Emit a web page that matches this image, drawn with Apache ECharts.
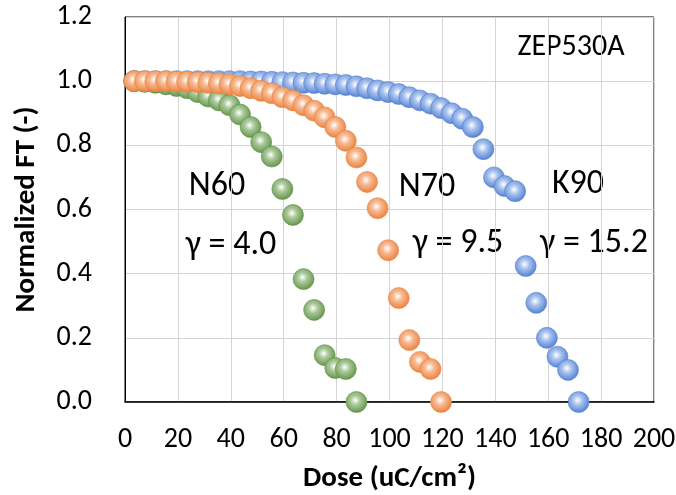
<!DOCTYPE html>
<html><head><meta charset="utf-8">
<script src="https://cdn.jsdelivr.net/npm/echarts@6/dist/echarts.min.js"></script>
<style>html,body{margin:0;padding:0;background:#fff}#c{width:676px;height:495px}</style>
</head><body><div id="c"></div>
<script>
const doses = [3.5,7.5,11.5,15.5,19.5,23.5,27.5,31.5,35.5,39.5,43.5,47.5,51.5,55.5,59.5,63.5,67.5,71.5,75.5,79.5,83.5,87.5,91.5,95.5,99.5,103.5,107.5,111.5,115.5,119.5,123.5,127.5,131.5,135.5,139.5,143.5,147.5,151.5,155.5,159.5,163.5,167.5,171.5];
const k90 = [1.0,1.0,1.0,1.0,1.0,1.0,1.0,1.0,1.0,1.0,1.0,0.999,0.999,0.998,0.997,0.996,0.995,0.994,0.992,0.99,0.988,0.984,0.978,0.971,0.966,0.96,0.95,0.94,0.93,0.916,0.9,0.883,0.857,0.788,0.70,0.673,0.657,0.424,0.309,0.2,0.141,0.1,0.0];
const n60 = [1.0,0.998,0.995,0.99,0.985,0.978,0.966,0.952,0.94,0.925,0.896,0.857,0.81,0.765,0.664,0.583,0.383,0.287,0.146,0.106,0.103,0.0];
const n70 = [1.0,1.0,1.0,1.0,0.999,0.998,0.997,0.995,0.993,0.99,0.985,0.978,0.97,0.962,0.95,0.94,0.925,0.908,0.887,0.857,0.814,0.762,0.686,0.604,0.473,0.324,0.193,0.125,0.103,0.0];
const xTicks = [0,20,40,60,80,100,120,140,160,180,200];
const yTicks = ['0.0','0.2','0.4','0.6','0.8','1.0','1.2'];
const FONT = 'Carlito, Lato, sans-serif';

function pairs(vals){ return vals.map((v,i)=>[doses[i], v]); }
function sphere(base, light){
  return {type:'radial', x:0.45, y:0.42, r:0.62, colorStops:[
    {offset:0, color:'#ffffff'},{offset:0.35, color:light},{offset:1, color:base}]};
}
const chart = echarts.init(document.getElementById('c'));
const series = [
  {name:'K90', data:pairs(k90), base:'#4a7ad0', light:'#a9c2ee', border:'#5580cc'},
  {name:'N60', data:pairs(n60), base:'#5e8f42', light:'#a9c99a', border:'#5e8f42'},
  {name:'N70', data:pairs(n70), base:'#ea7a30', light:'#f6bb94', border:'#e9813f'}
].map(s=>({type:'scatter', name:s.name, data:s.data, symbolSize:21,
  itemStyle:{color:sphere(s.base,s.light), borderColor:s.border, borderWidth:0.6, opacity:1},
  emphasis:{disabled:true}, animation:false}));

function label(text, x, y, size){
  return {type:'text', x:x, y:y, style:{text:text, fontSize:size, fontFamily:FONT, fill:'#000',
    textAlign:'center', textVerticalAlign:'middle'}};
}

chart.setOption({
  animation:false,
  grid:{left:125, top:17, right:22, bottom:93, show:true, borderColor:'#000', borderWidth:1,
    containLabel:false, outerBoundsMode:'none'},
  xAxis:{type:'value', min:0, max:200, interval:20,
    axisLine:{show:true, onZero:false, lineStyle:{color:'#000', width:1.5}},
    axisTick:{show:false},
    splitLine:{show:true, lineStyle:{color:'#d4d4d4', width:1}},
    axisLabel:{color:'#000', fontSize:28, fontFamily:FONT, margin:24,
      formatter:v=>xTicks.includes(v)?String(v):''},
    name:'Dose (uC/cm²)', nameLocation:'middle', nameGap:62,
    nameTextStyle:{color:'#000', fontSize:29, fontWeight:'bold', fontFamily:FONT}},
  yAxis:{type:'value', min:0, max:1.2, interval:0.2,
    axisLine:{show:true, lineStyle:{color:'#000', width:1}},
    axisTick:{show:false},
    splitLine:{show:true, lineStyle:{color:'#d4d4d4', width:1}},
    axisLabel:{color:'#000', fontSize:28, fontFamily:FONT, margin:33,
      formatter:v=>yTicks[Math.round(v/0.2)]},
    name:'Normalized FT (-)', nameLocation:'middle', nameGap:84,
    nameTextStyle:{color:'#000', fontSize:29, fontWeight:'bold', fontFamily:FONT}},
  series:series,
  graphic:[
    label('ZEP530A', 571, 47, 30),
    label('N60', 217, 186, 34),
    label('γ = 4.0', 231, 245, 34),
    label('N70', 427, 187, 34),
    label('γ = 9.5', 458, 243, 34),
    label('K90', 578, 184, 34),
    label('γ = 15.2', 594, 243, 34)
  ]
});
</script></body></html>
